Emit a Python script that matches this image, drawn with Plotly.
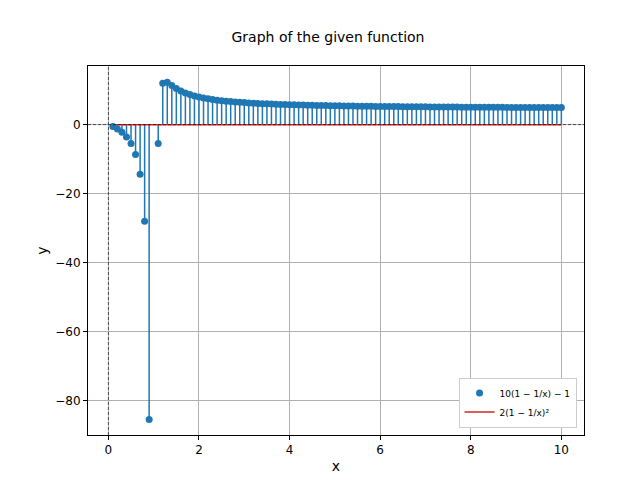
import plotly.graph_objects as go

# x from 0.1 to 10 step 0.1, x = 1.0 is undefined (division by zero) so it is left out
x = [round(0.1 * i, 1) for i in range(1, 101) if i != 10]
y = [-0.56, -1.28, -2.23, -3.56, -5.5, -8.63, -14.39, -28.0, -85.5,
     -5.5, 12.0, 12.28, 11.38, 10.5, 9.78, 9.19, 8.72, 8.33, 8.0,
     7.72, 7.49, 7.28, 7.10, 6.94, 6.80, 6.68, 6.57, 6.47, 6.38,
     6.29, 6.21, 6.14, 6.08, 6.02, 5.96, 5.91, 5.86, 5.82, 5.78,
     5.74, 5.71, 5.67, 5.64, 5.60, 5.58, 5.55, 5.52, 5.50,
     5.47, 5.45, 5.43, 5.41, 5.39, 5.36, 5.34, 5.33, 5.31, 5.29,
     5.28, 5.26, 5.25, 5.24, 5.22, 5.21, 5.20, 5.19, 5.17, 5.16,
     5.15, 5.14, 5.13, 5.12, 5.11, 5.10, 5.09, 5.08, 5.07, 5.07,
     5.06, 5.05, 5.04, 5.03, 5.03, 5.02, 5.01, 5.01, 5.00, 4.99,
     4.99, 4.98, 4.98, 4.97, 4.97, 4.96, 4.96, 4.95, 4.95, 4.94,
     4.94]

blue = "#1f77b4"
sx, sy = [], []
for xi, yi in zip(x, y):
    sx += [xi, xi, None]
    sy += [0, yi, None]

fig = go.Figure()
fig.add_trace(go.Scatter(x=sx, y=sy, mode="lines", line=dict(color=blue, width=1.5),
                         showlegend=False, hoverinfo="skip"))
fig.add_trace(go.Scatter(x=[x[0], x[-1]], y=[0, 0], mode="lines",
                         line=dict(color="#d62728", width=1.5), name="2(1 − 1/x)²"))
fig.add_trace(go.Scatter(x=x, y=y, mode="markers", marker=dict(color=blue, size=7),
                         name="10(1 − 1/x) − 1"))

fig.add_hline(y=0, line=dict(color="black", width=0.6, dash="3px,2px"))
fig.add_vline(x=0, line=dict(color="black", width=0.6, dash="3px,2px"))

axis = dict(showgrid=True, gridcolor="#b0b0b0", gridwidth=0.8, zeroline=False,
            showline=True, linecolor="black", mirror=True, ticks="outside",
            ticklen=4, tickcolor="black", automargin=False)
fig.update_layout(
    width=640, height=480, autosize=False, plot_bgcolor="white", paper_bgcolor="white",
    margin=dict(l=80, r=64, t=58, b=53),
    font=dict(family="DejaVu Sans", size=12, color="black"),
    title=dict(text="Graph of the given function", x=0.5, xanchor="center", y=0.95, font=dict(size=14)),
    xaxis=dict(axis, title=dict(text="x", standoff=4), range=[-0.45, 10.5], dtick=2),
    yaxis=dict(axis, title=dict(text="y", standoff=4), range=[-90, 17], dtick=20),
    legend=dict(x=0.985, y=0.02, xanchor="right", yanchor="bottom", traceorder="reversed",
                bordercolor="#cccccc", borderwidth=1, bgcolor="white", font=dict(size=9)),
)
fig.write_html("out.html")
